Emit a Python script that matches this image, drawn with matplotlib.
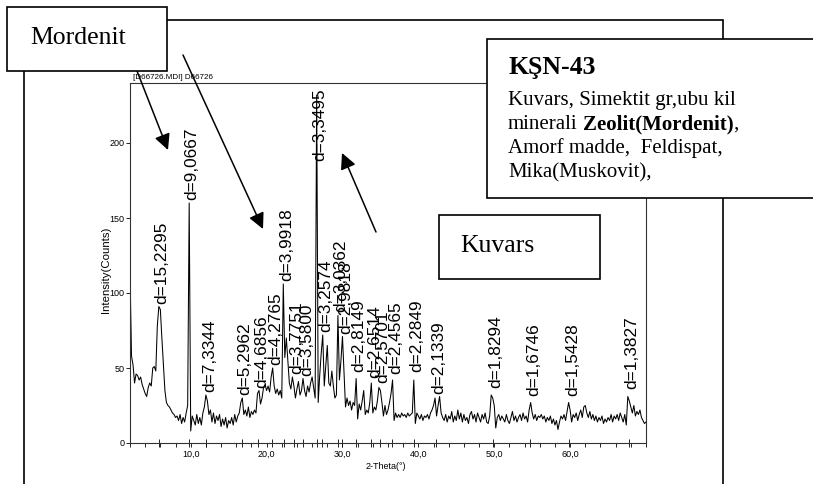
import numpy as np
import matplotlib
matplotlib.use('Agg')
import matplotlib.pyplot as plt
from matplotlib.patches import Rectangle
from matplotlib.ticker import FixedLocator, MultipleLocator

# XRD pattern, sample KSN-43 (Cu K-alpha), step 0.2 deg from 2 to 70 deg 2-theta
theta_start, theta_step = 2.0, 0.2
counts = [
    114, 58, 52, 40, 46,   45, 42, 44, 39, 36,   33, 31, 37, 40, 38,   50, 51, 48, 78, 91,
    89, 70, 53, 35, 27,    25, 24, 22, 20, 19,   17, 18, 15, 19, 13,   17, 14, 20, 25, 160,
    8, 18, 15, 12, 19,     13, 17, 12, 20, 24,   32, 28, 19, 22, 14,   20, 13, 18, 15, 19,
    11, 16, 12, 17, 10,    15, 13, 17, 12, 19,   14, 18, 20, 27, 30,   19, 22, 18, 24, 17,
    21, 19, 22, 20, 33,    35, 26, 30, 37, 39,   35, 38, 34, 44, 50,   38, 33, 36, 32, 35,
    30, 106, 57, 70, 55,   40, 36, 44, 38, 30,   36, 41, 32, 35, 43,   35, 31, 38, 34, 40,
    44, 37, 30, 232, 27,   45, 60, 72, 38, 52,   65, 40, 38, 48, 38,   30, 32, 85, 42, 55,
    71, 48, 24, 30, 25,    28, 22, 27, 25, 43,   16, 26, 22, 28, 35,   19, 22, 20, 27, 40,
    20, 24, 22, 28, 37,    35, 27, 18, 25, 19,   22, 27, 33, 42, 15,   20, 17, 19, 17, 20,
    18, 19, 17, 20, 18,    19, 20, 42, 13, 20,   18, 16, 19, 15, 18,   17, 19, 16, 20, 22,
    25, 30, 18, 25, 31,    20, 17, 15, 19, 14,   18, 16, 21, 14, 18,   15, 22, 16, 20, 14,
    19, 15, 17, 13, 19,    21, 16, 19, 14, 20,   17, 14, 19, 16, 20,   14, 13, 18, 32, 30,
    25, 10, 17, 19, 15,    18, 16, 14, 19, 15,   13, 17, 21, 15, 18,   14, 17, 19, 15, 20,
    16, 18, 14, 22, 27,    20, 16, 19, 15, 18,   17, 19, 16, 18, 14,   17, 15, 18, 13, 16,
    12, 15, 9, 14, 18,     16, 19, 15, 21, 27,   22, 14, 19, 17, 20,   15, 19, 22, 17, 24,
    25, 20, 17, 21, 16,    19, 15, 18, 14, 17,   15, 18, 13, 16, 14,   17, 15, 19, 14, 18,
    16, 19, 15, 20, 17,    14, 19, 12, 31, 28,   24, 20, 25, 18, 21,   19, 22, 17, 15, 13,
    14,
]
two_theta = theta_start + theta_step * np.arange(len(counts))

# peak labels (d-spacing), peak position and peak top
peak_d = ['15,2295', '9,0667', '7,3344', '5,2962', '4,6856', '4,2765', '3,9918',
          '3,7751', '3,5800', '3,3495', '3,2574', '3,0362', '2,9818', '2,8149',
          '2,6514', '2,5701', '2,4565', '2,2849', '2,1339', '1,8294', '1,6746',
          '1,5428', '1,3827']
peak_2theta = [5.80, 9.75, 12.06, 16.73, 18.92, 20.75, 22.25, 23.55, 24.85, 26.59,
               27.36, 29.39, 29.97, 31.76, 33.78, 34.88, 36.55, 39.40, 42.32, 49.80,
               54.77, 59.90, 67.70]
peak_top = [91, 160, 32, 30, 35, 50, 106, 44, 43, 232, 72, 85, 71, 45, 41, 38, 44,
            45, 31, 35, 29, 29, 34]

W, H = 813, 484
fig = plt.figure(figsize=(W / 100, H / 100), dpi=100)
plt.rcParams['font.family'] = ['Liberation Sans', 'DejaVu Sans']

# ---- XRD chart ----
ax_l, ax_r, ax_t, ax_b = 130, 646, 83, 443
ax = fig.add_axes([ax_l / W, 1 - ax_b / H, (ax_r - ax_l) / W, (ax_b - ax_t) / H])
ax.plot(two_theta, counts, color='k', lw=0.75)
ax.set_xlim(2, 70)
ax.set_ylim(0, 240)
for sp in ax.spines.values():
    sp.set_linewidth(0.8)
    sp.set_color('#333333')

ax.xaxis.set_major_locator(FixedLocator([10, 20, 30, 40, 50, 60]))
ax.set_xticklabels(['10,0', '20,0', '30,0', '40,0', '50,0', '60,0'])
ax.xaxis.set_minor_locator(MultipleLocator(2))
ax.yaxis.set_major_locator(FixedLocator([0, 50, 100, 150, 200]))
ax.tick_params(which='both', direction='out', length=2.6, width=0.6, labelsize=6.5, pad=1.5)
ax.tick_params(axis='x', which='major', pad=2.5)
ax.set_xlabel('2-Theta(°)', fontsize=6.5)
ax.xaxis.set_label_coords((386 - ax_l) / (ax_r - ax_l), -0.053)
ax.set_ylabel('Intensity(Counts)', fontsize=8.2)
ax.yaxis.set_label_coords(-0.037, 0.48)

# peak markers crossing the x axis
ax.vlines(peak_2theta, -0.012, 0.012, transform=ax.get_xaxis_transform(),
          color='k', lw=0.6, clip_on=False)

# d-spacing labels
for d, x, top in zip(peak_d, peak_2theta, peak_top):
    y = min(top + 2, 188)
    ax.annotate('d=' + d, xy=(x, y), xytext=(2.3, 0), textcoords='offset points',
                rotation=90, ha='center', va='bottom', fontsize=12.4)

# ---- overlay in pixel coordinates (frames, boxes, arrows) ----
ov = fig.add_axes([0, 0, 1, 1])
ov.set_xlim(0, W)
ov.set_ylim(H, 0)
ov.axis('off')

ov.add_patch(Rectangle((24, 20), 699, 490, fill=False, ec='k', lw=1.2, zorder=1))
ov.text(133, 79, '[D66726.MDI] D66726', fontsize=5.8, va='baseline', ha='left')

arrow = dict(arrowstyle='-|>,head_length=0.6,head_width=0.3', color='k', lw=1.1,
             mutation_scale=16, shrinkA=0, shrinkB=0)
ov.annotate('', xy=(168, 150), xytext=(137, 71), arrowprops=arrow, zorder=2)
ov.annotate('', xy=(263, 229), xytext=(183, 55), arrowprops=arrow, zorder=2)
ov.annotate('', xy=(342, 153), xytext=(376, 232), arrowprops=arrow, zorder=2)

ov.add_patch(Rectangle((7, 7), 160, 64, fc='white', ec='k', lw=1.2, zorder=3))
ov.text(30, 44, 'Mordenit', family='Liberation Serif', fontsize=18.5,
        va='baseline', zorder=4)

ov.add_patch(Rectangle((439, 215), 161, 64, fc='white', ec='k', lw=1.2, zorder=3))
ov.text(460, 252, 'Kuvars', family='Liberation Serif', fontsize=18.5,
        va='baseline', zorder=4)

ov.add_patch(Rectangle((487, 39), 340, 159, fc='white', ec='k', lw=1.2, zorder=3))
serif = dict(family='Liberation Serif', fontsize=15, va='baseline', zorder=4)
ov.text(508, 74, 'KŞN-43', family='Liberation Serif', fontsize=18.5,
        weight='bold', va='baseline', zorder=4)
ov.text(508, 105, 'Kuvars, Simektit gr,ubu kil', **serif)
t1 = ov.text(508, 129, 'minerali', **serif)
t2 = ov.annotate('Zeolit(Mordenit)', xy=(1, 0), xycoords=t1, xytext=(3.8, 0),
                 textcoords='offset points', family='Liberation Serif', fontsize=15,
                 weight='bold', va='bottom', zorder=4)
ov.annotate(',', xy=(1, 0), xycoords=t2, family='Liberation Serif', fontsize=15,
            va='bottom', zorder=4)
ov.text(508, 153, 'Amorf madde,  Feldispat,', **serif)
ov.text(508, 177, 'Mika(Muskovit),', **serif)

fig.savefig('out.png', dpi=100)
